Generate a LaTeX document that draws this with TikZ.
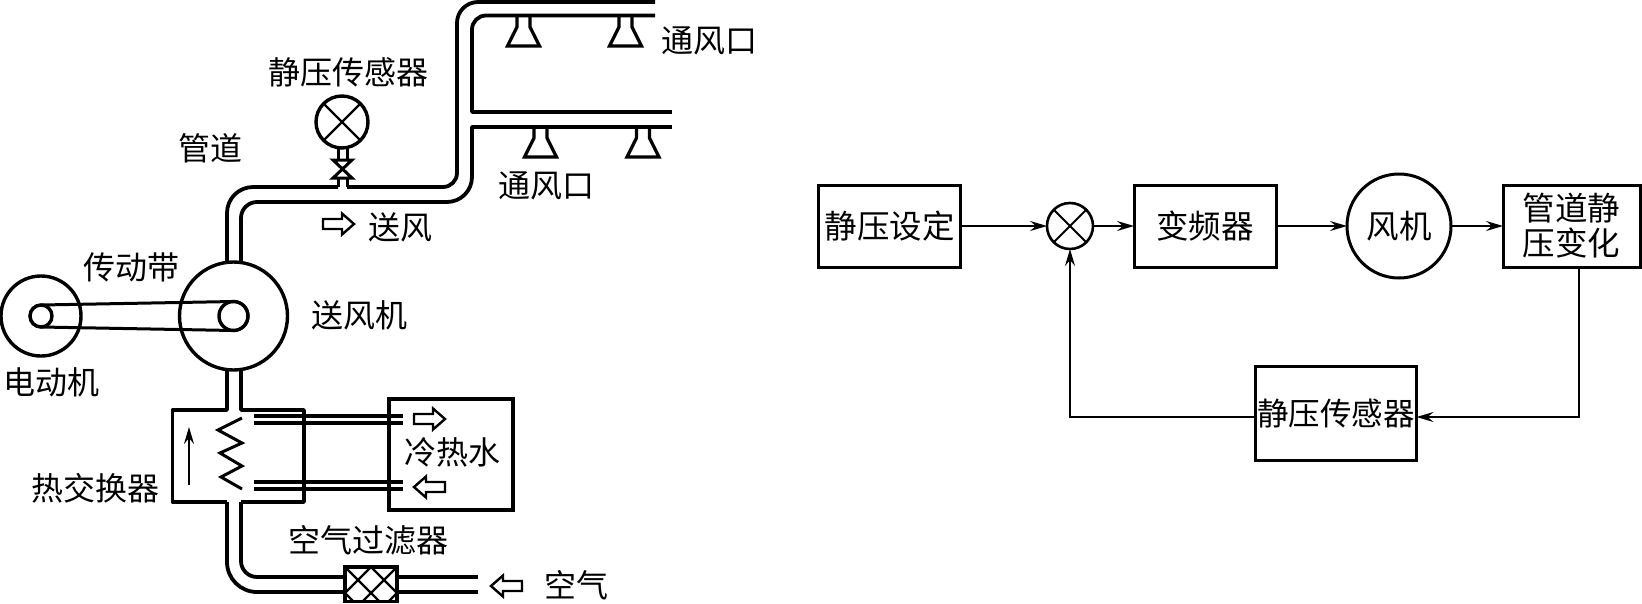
\documentclass[tikz,border=0pt]{standalone}
\usepackage{fontspec}
\setmainfont{Noto Sans CJK SC}
\usetikzlibrary{arrows.meta,calc}
\tikzset{
  x=1pt,y=-1pt,
  label/.style={inner sep=0pt,outer sep=0pt,font=\fontsize{32}{36}\selectfont,align=center,text=black},
  duct/.style={line width=3.8pt,line join=round},
  thick pipe/.style={line width=3.2pt},
  frame/.style={draw,line width=3.4pt},
  round part/.style={draw,circle,line width=3.4pt,inner sep=0pt,outer sep=0pt},
  blockbox/.style={draw,line width=3pt,inner sep=0pt,outer sep=0pt,align=center,font=\fontsize{32.5}{35}\selectfont},
  flow/.style={line width=2pt,-{Stealth[length=17pt,width=10pt,inset=6pt]}},
  hollow/.style={line width=2.4pt,line join=miter},
}
\newcommand{\rightarr}[2]{% tail x, y
  \draw[hollow] (#1,#2-5) -- ++(19,0) -- ++(0,-5.5) -- ++(12,10.5) -- ++(-12,10.5) -- ++(0,-5.5) -- ++(-19,0) -- cycle;}
\newcommand{\leftarr}[2]{% tail x (right end), y
  \draw[hollow] (#1,#2-5) -- ++(-19,0) -- ++(0,-5.5) -- ++(-12,10.5) -- ++(12,10.5) -- ++(0,-5.5) -- ++(19,0) -- cycle;}
\newcommand{\ventat}[2]{% neck centre x, top y
  \draw[line width=3.2pt,line join=miter] (#1-6.5,#2) -- (#1-6.5,#2+11) -- (#1-16,#2+30) -- (#1+16,#2+30) -- (#1+6.5,#2+11) -- (#1+6.5,#2);}
\begin{document}
\begin{tikzpicture}
\useasboundingbox (0,0) rectangle (1642,603);

% ---- rotating parts
\node[round part,minimum size=80pt] (motor) at (41,316) {};
\node[round part,minimum size=108pt] (fan) at (233.5,316) {};
\node[round part,minimum size=22pt] (mpulley) at (41,316) {};
\node[round part,minimum size=29pt] (fpulley) at (233.5,316) {};
\draw[line width=3pt] (41,305) -- (233.5,301.5) arc[start angle=-90,end angle=90,radius=14.5] -- (41,327) arc[start angle=90,end angle=270,radius=11];

% ---- supply duct
\draw[duct,rounded corners=26pt] (227,263) -- (227,187) -- (338,187);
\draw[duct,rounded corners=14pt] (347,187) -- (457,187) -- (457,100);
\draw[duct,rounded corners=21pt] (457,100) -- (457,2) -- (655,2);
\draw[duct,rounded corners=16pt] (241,263) -- (241,202) -- (320,202);
\draw[duct,rounded corners=25pt] (320,202) -- (472,202) -- (472,140);
\draw[duct] (472,140) -- (472,127) -- (672,127);
\draw[duct] (672,112) -- (472,112) -- (472,70);
\draw[duct,rounded corners=14pt] (472,70) -- (472,15.5) -- (655,15.5);

% ---- vents
\ventat{523.5}{16}
\ventat{625.5}{16}
\ventat{540.5}{127}
\ventat{643}{127}

% ---- static pressure sensor and valve
\node[round part,minimum size=52pt] (sensor) at (342,122) {};
\draw[line width=2.4pt] (sensor.45) -- (sensor.225) (sensor.135) -- (sensor.315);
\draw[line width=3pt] (338,148) -- (338,160) (347,148) -- (347,160);
\draw[line width=3pt,line join=miter] (333,160) -- (352,160) -- (333,178) -- (352,178) -- cycle;
\draw[line width=3pt] (338,178) -- (338,187) (347,178) -- (347,187);
\rightarr{323}{224}

% ---- lower duct and heat exchanger
\draw[duct] (227,370) -- (227,410) -- (172.5,410) -- (172.5,502) -- (227,502);
\draw[duct] (241,370) -- (241,410) -- (304,410) -- (304,502) -- (241,502);
\draw[line width=3pt] (242,418) -- (218,430) -- (242,443) -- (220,453) -- (242,466) -- (221,477) -- (242,489);
\draw[line width=2pt,-{Stealth[length=17pt,width=10pt,inset=6pt]}] (189,485) -- (189,427);
\draw[duct,rounded corners=30pt] (227,502) -- (227,592) -- (345,592);
\draw[duct,rounded corners=16pt] (241,502) -- (241,577) -- (345,577);
\draw[duct] (397,577) -- (478,577) (397,592) -- (478,592);
% filter
\begin{scope}
\clip (345,567) rectangle (397,602);
\foreach \d in {-26,0,26,52}{
  \draw[line width=2.2pt] (345+\d,567) -- ++(40,40);
  \draw[line width=2.2pt] (397-\d,567) -- ++(-40,40);
}
\end{scope}
\draw[frame] (345,567) rectangle (397,601.5);
\leftarr{522}{586}

% ---- water pipes and tank
\draw[frame] (389,399) rectangle (513,510);
\draw[thick pipe] (254,416) -- (403,416) (254,423) -- (403,423) (254,482) -- (403,482) (254,489) -- (403,489);
\rightarr{414}{419}
\leftarr{445}{487}

% ---- labels, left
\node[label] (tA) at (348,72) {静压传感器};
\node[label] (tB) at (210,148) {管道};
\node[label] (tC) at (709,41) {通风口};
\node[label] (tD) at (546,186) {通风口};
\node[label] (tE) at (400,227) {送风};
\node[label] (tF) at (131,267) {传动带};
\node[label] (tG) at (359,315) {送风机};
\node[label] (tH) at (52,382) {电动机};
\node[label] (tI) at (95,488) {热交换器};
\node[label] (tJ) at (368,540) {空气过滤器};
\node[label] (tK) at (576,585) {空气};
\node[label] (tL) at (452,452) {冷热水};

% ---- block diagram
\node[blockbox,minimum width=142pt,minimum height=82pt] (set) at (889.5,226) {静压设定};
\node[round part,line width=2.6pt,minimum size=46pt] (sum) at (1070,226) {};
\draw[line width=1.8pt] (sum.45) -- (sum.225) (sum.135) -- (sum.315);
\node[blockbox,minimum width=142pt,minimum height=82pt] (vfd) at (1205,226) {变频器};
\node[round part,line width=3pt,minimum size=104pt,font=\fontsize{32.5}{38}\selectfont] (blower) at (1399,226) {风机};
\node[blockbox,minimum width=137pt,minimum height=82pt] (duct) at (1571.5,226) {管道静\\压变化};
\node[blockbox,minimum width=161pt,minimum height=94pt,font=\fontsize{31.5}{35}\selectfont] (ps) at (1336,413) {静压传感器};
\coordinate (ductout) at (1579,267);
\coordinate (turnA) at (1579,417);
\coordinate (psR) at (ps.east |- turnA);
\coordinate (psL) at (ps.west |- turnA);
\coordinate (turnB) at (sum.south |- turnA);

\draw[flow] (set) -- (sum);
\draw[flow] (sum) -- (vfd);
\draw[flow] (vfd) -- (blower);
\draw[flow] (blower) -- (duct);
\draw[flow] (ductout) -- (turnA) -- (psR);
\draw[flow] (psL) -- (turnB) -- (sum);
\end{tikzpicture}
\end{document}
